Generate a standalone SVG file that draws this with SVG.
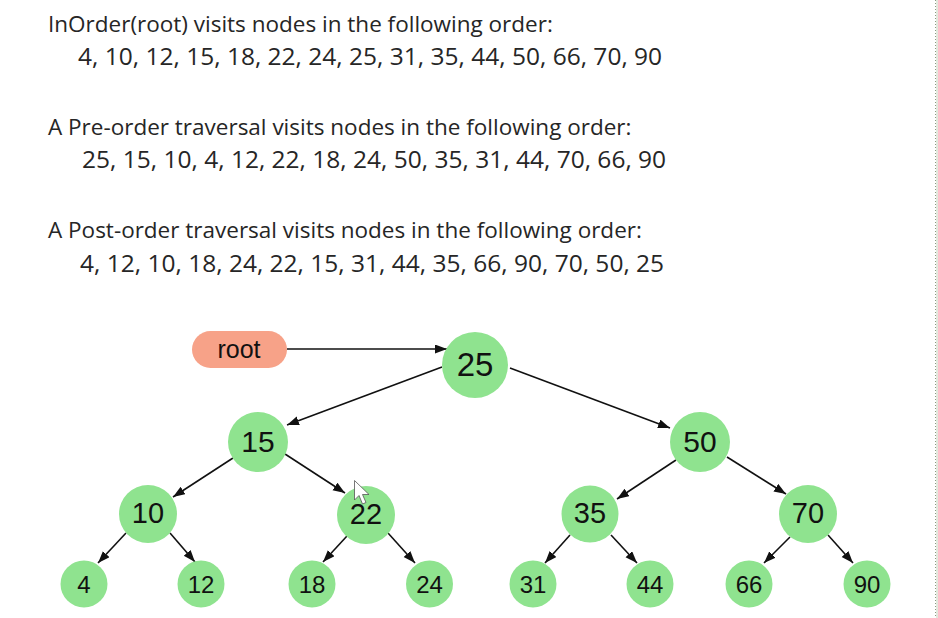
<svg xmlns="http://www.w3.org/2000/svg" width="938" height="618" viewBox="0 0 938 618">
<defs>
<marker id="ah" markerUnits="userSpaceOnUse" markerWidth="12" markerHeight="10" refX="12" refY="4.5" orient="auto">
<path d="M0,0 L12,4.5 L0,9 Z" fill="#111"/>
</marker>
<style>
.t{font-family:"Open Sans","Noto Sans",sans-serif;font-size:22.5px;fill:#262626}
.num{font-size:24.5px}
.n{fill:#8fe38f}
.lbl{font-family:"Liberation Sans",Arial,sans-serif;fill:#111;text-anchor:middle;dominant-baseline:central}
.e{stroke:#111;stroke-width:1.6;fill:none;marker-end:url(#ah)}
</style>
</defs>
<rect width="938" height="618" fill="#fff"/>
<line x1="935.5" y1="0" x2="935.5" y2="618" stroke="#8a9a80" stroke-width="1" stroke-dasharray="1,2"/>
<line x1="937" y1="0" x2="937" y2="618" stroke="#e3e8dd" stroke-width="2"/>
<g id="text">
<text class="t" x="48" y="32">InOrder(root) visits nodes in the following order:</text>
<text class="t num" x="78" y="65">4, 10, 12, 15, 18, 22, 24, 25, 31, 35, 44, 50, 66, 70, 90</text>
<text class="t" x="48" y="135">A Pre-order traversal visits nodes in the following order:</text>
<text class="t num" x="82" y="168">25, 15, 10, 4, 12, 22, 18, 24, 50, 35, 31, 44, 70, 66, 90</text>
<text class="t" x="48" y="238">A Post-order traversal visits nodes in the following order:</text>
<text class="t num" x="80" y="272">4, 12, 10, 18, 24, 22, 15, 31, 44, 35, 66, 90, 70, 50, 25</text>
</g>
<g id="connectors">
<line class="e" x1="287" y1="349" x2="447" y2="349"/>
<line class="e" x1="442" y1="367" x2="287" y2="425"/>
<line class="e" x1="510" y1="368" x2="670" y2="428"/>
<line class="e" x1="233" y1="458" x2="173" y2="497"/>
<line class="e" x1="285" y1="454" x2="345" y2="493"/>
<line class="e" x1="676" y1="460" x2="617" y2="499"/>
<line class="e" x1="727" y1="457" x2="786" y2="494"/>
<line class="e" x1="126" y1="533" x2="98" y2="563"/>
<line class="e" x1="170" y1="533" x2="195" y2="562"/>
<line class="e" x1="347" y1="536" x2="323" y2="562"/>
<line class="e" x1="388" y1="533" x2="415" y2="563"/>
<line class="e" x1="570" y1="535" x2="545" y2="563"/>
<line class="e" x1="611" y1="535" x2="637" y2="563"/>
<line class="e" x1="790" y1="537" x2="764" y2="563"/>
<line class="e" x1="828" y1="535" x2="853" y2="563"/>
</g>
<g id="root">
<rect x="192" y="331" width="95" height="37" rx="18.5" fill="#f7a288"/>
<text class="lbl" x="239" y="349" font-size="25">root</text>
</g>
<g id="n25"><circle class="n" cx="475" cy="365" r="33"/><text class="lbl" x="475" y="364" font-size="33">25</text></g>
<g id="n15"><circle class="n" cx="258" cy="442" r="30"/><text class="lbl" x="258" y="441" font-size="30">15</text></g>
<g id="n50"><circle class="n" cx="700" cy="442" r="30"/><text class="lbl" x="700" y="441" font-size="30">50</text></g>
<g id="n10"><circle class="n" cx="148" cy="514" r="29"/><text class="lbl" x="148" y="513" font-size="29">10</text></g>
<g id="n22"><circle class="n" cx="366" cy="515" r="29"/><text class="lbl" x="366" y="514" font-size="29">22</text></g>
<g id="n35"><circle class="n" cx="590" cy="514" r="28.5"/><text class="lbl" x="590" y="513" font-size="29">35</text></g>
<g id="n70"><circle class="n" cx="808" cy="514" r="29"/><text class="lbl" x="808" y="513" font-size="29">70</text></g>
<g id="n4"><circle class="n" cx="84" cy="584" r="23.5"/><text class="lbl" x="84" y="584" font-size="24">4</text></g>
<g id="n12"><circle class="n" cx="201" cy="584" r="23.5"/><text class="lbl" x="201" y="584" font-size="24">12</text></g>
<g id="n18"><circle class="n" cx="312" cy="584" r="23.5"/><text class="lbl" x="312" y="584" font-size="24">18</text></g>
<g id="n24"><circle class="n" cx="429.5" cy="584" r="23.5"/><text class="lbl" x="429.5" y="584" font-size="24">24</text></g>
<g id="n31"><circle class="n" cx="533" cy="584" r="23.5"/><text class="lbl" x="533" y="584" font-size="24">31</text></g>
<g id="n44"><circle class="n" cx="650" cy="584" r="23.5"/><text class="lbl" x="650" y="584" font-size="24">44</text></g>
<g id="n66"><circle class="n" cx="749" cy="584" r="23.5"/><text class="lbl" x="749" y="584" font-size="24">66</text></g>
<g id="n90"><circle class="n" cx="867" cy="584" r="23.5"/><text class="lbl" x="867" y="584" font-size="24">90</text></g>
<g id="cursor">
<path d="M354.5,480.5 L354.5,500 L359,495.5 L362.5,504 L366,502.5 L362.5,494.5 L369,494.5 Z" fill="#fff" stroke="#555" stroke-width="0.8"/>
</g>
</svg>
